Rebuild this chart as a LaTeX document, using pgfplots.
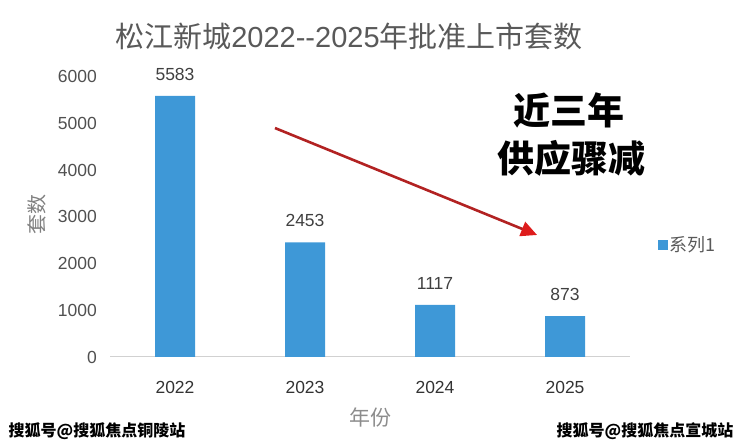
\documentclass[border=0pt]{standalone}
\usepackage{fontspec}
\setmainfont{Liberation Sans}
\newfontfamily\cjk{Noto Sans CJK SC}
\usepackage{pgfplots}
\pgfplotsset{compat=1.18}
\usetikzlibrary{arrows.meta}
\definecolor{barblue}{RGB}{62,152,215}
\definecolor{titlegray}{RGB}{89,89,89}
\definecolor{tickgray}{RGB}{80,80,80}
\definecolor{arrowred}{RGB}{178,34,34}
\definecolor{headred}{RGB}{222,28,28}
\newcommand\fs[1]{\fontsize{#1bp}{#1bp}\selectfont}
\begin{document}
\begin{tikzpicture}
\begin{axis}[
  at={(110bp,90bp)}, anchor=south west,
  scale only axis, width=520bp, height=280.5bp,
  xmin=-0.5, xmax=3.5, ymin=0, ymax=6000,
  axis x line*=bottom, axis y line*=left,
  x axis line style={draw=black!18, line width=1bp, -},
  y axis line style={draw=none},
  major tick length=0pt,
  tick style={draw=none},
  xtick={0,1,2,3}, xticklabels={2022,2023,2024,2025},
  ytick={0,1000,2000,3000,4000,5000,6000},
  /pgf/number format/assume math mode=true,
  /pgf/number format/1000 sep={},
  yticklabel style={font=\fs{17.5}, text=tickgray, inner sep=0pt, anchor=east, xshift=-13bp},
  xticklabel style={font=\fs{17.5}, text=black!80, inner sep=0pt, anchor=north, yshift=-24bp},
  ybar, bar width=40bp,
  nodes near coords,
  nodes near coords style={font=\fs{17.5}, text=black!75, inner sep=0pt, anchor=south, yshift=15bp,
    /pgf/number format/assume math mode=true, /pgf/number format/1000 sep={}},
  clip=false,
  legend style={draw=none, fill=none, at={(1.053,0.4)}, anchor=west, font=\cjk\fs{18}, text=titlegray,
    inner sep=0pt, legend cell align=left},
  legend image code/.code={\fill[barblue] (0bp,-5bp) rectangle (10bp,5bp);},
]
\addplot[fill=barblue, draw=none] coordinates {(0,5583) (1,2453) (2,1117) (3,873)};
\addlegendentry{系列1}
\draw[arrowred, line width=2.6bp, -{Triangle[length=16bp,width=15bp,color=headred]}]
  (axis cs:0.769,4898) -- (axis cs:2.785,2610);
\end{axis}
% title
\node[font=\fs{29}, text=titlegray, inner sep=0pt] at (349bp,411bp)
  {{\cjk 松江新城}2022-{}-2025{\cjk 年批准上市套数}};
% axis titles
\node[font=\cjk\fs{20}, text=black!50, inner sep=0pt, rotate=90] at (37bp,232bp) {套数};
\node[font=\cjk\fs{21}, text=black!45, inner sep=0pt] at (370bp,30bp) {年份};
% annotation
\node[font=\cjk\bfseries\fs{37}, text=black, inner sep=0pt] at (569bp,337bp) {近三年};
\node[font=\cjk\bfseries\fs{37}, text=black, inner sep=0pt] at (571bp,289bp) {供应骤减};
% watermarks
\node[font=\cjk\bfseries\fs{16}, text=black, inner sep=0pt] at (97bp,16bp) {搜狐号@搜狐焦点铜陵站};
\node[font=\cjk\bfseries\fs{16}, text=black, inner sep=0pt] at (645bp,16bp) {搜狐号@搜狐焦点宣城站};
\pgfresetboundingbox
\path (0,0) rectangle (740bp,447bp);
\end{tikzpicture}
\end{document}
